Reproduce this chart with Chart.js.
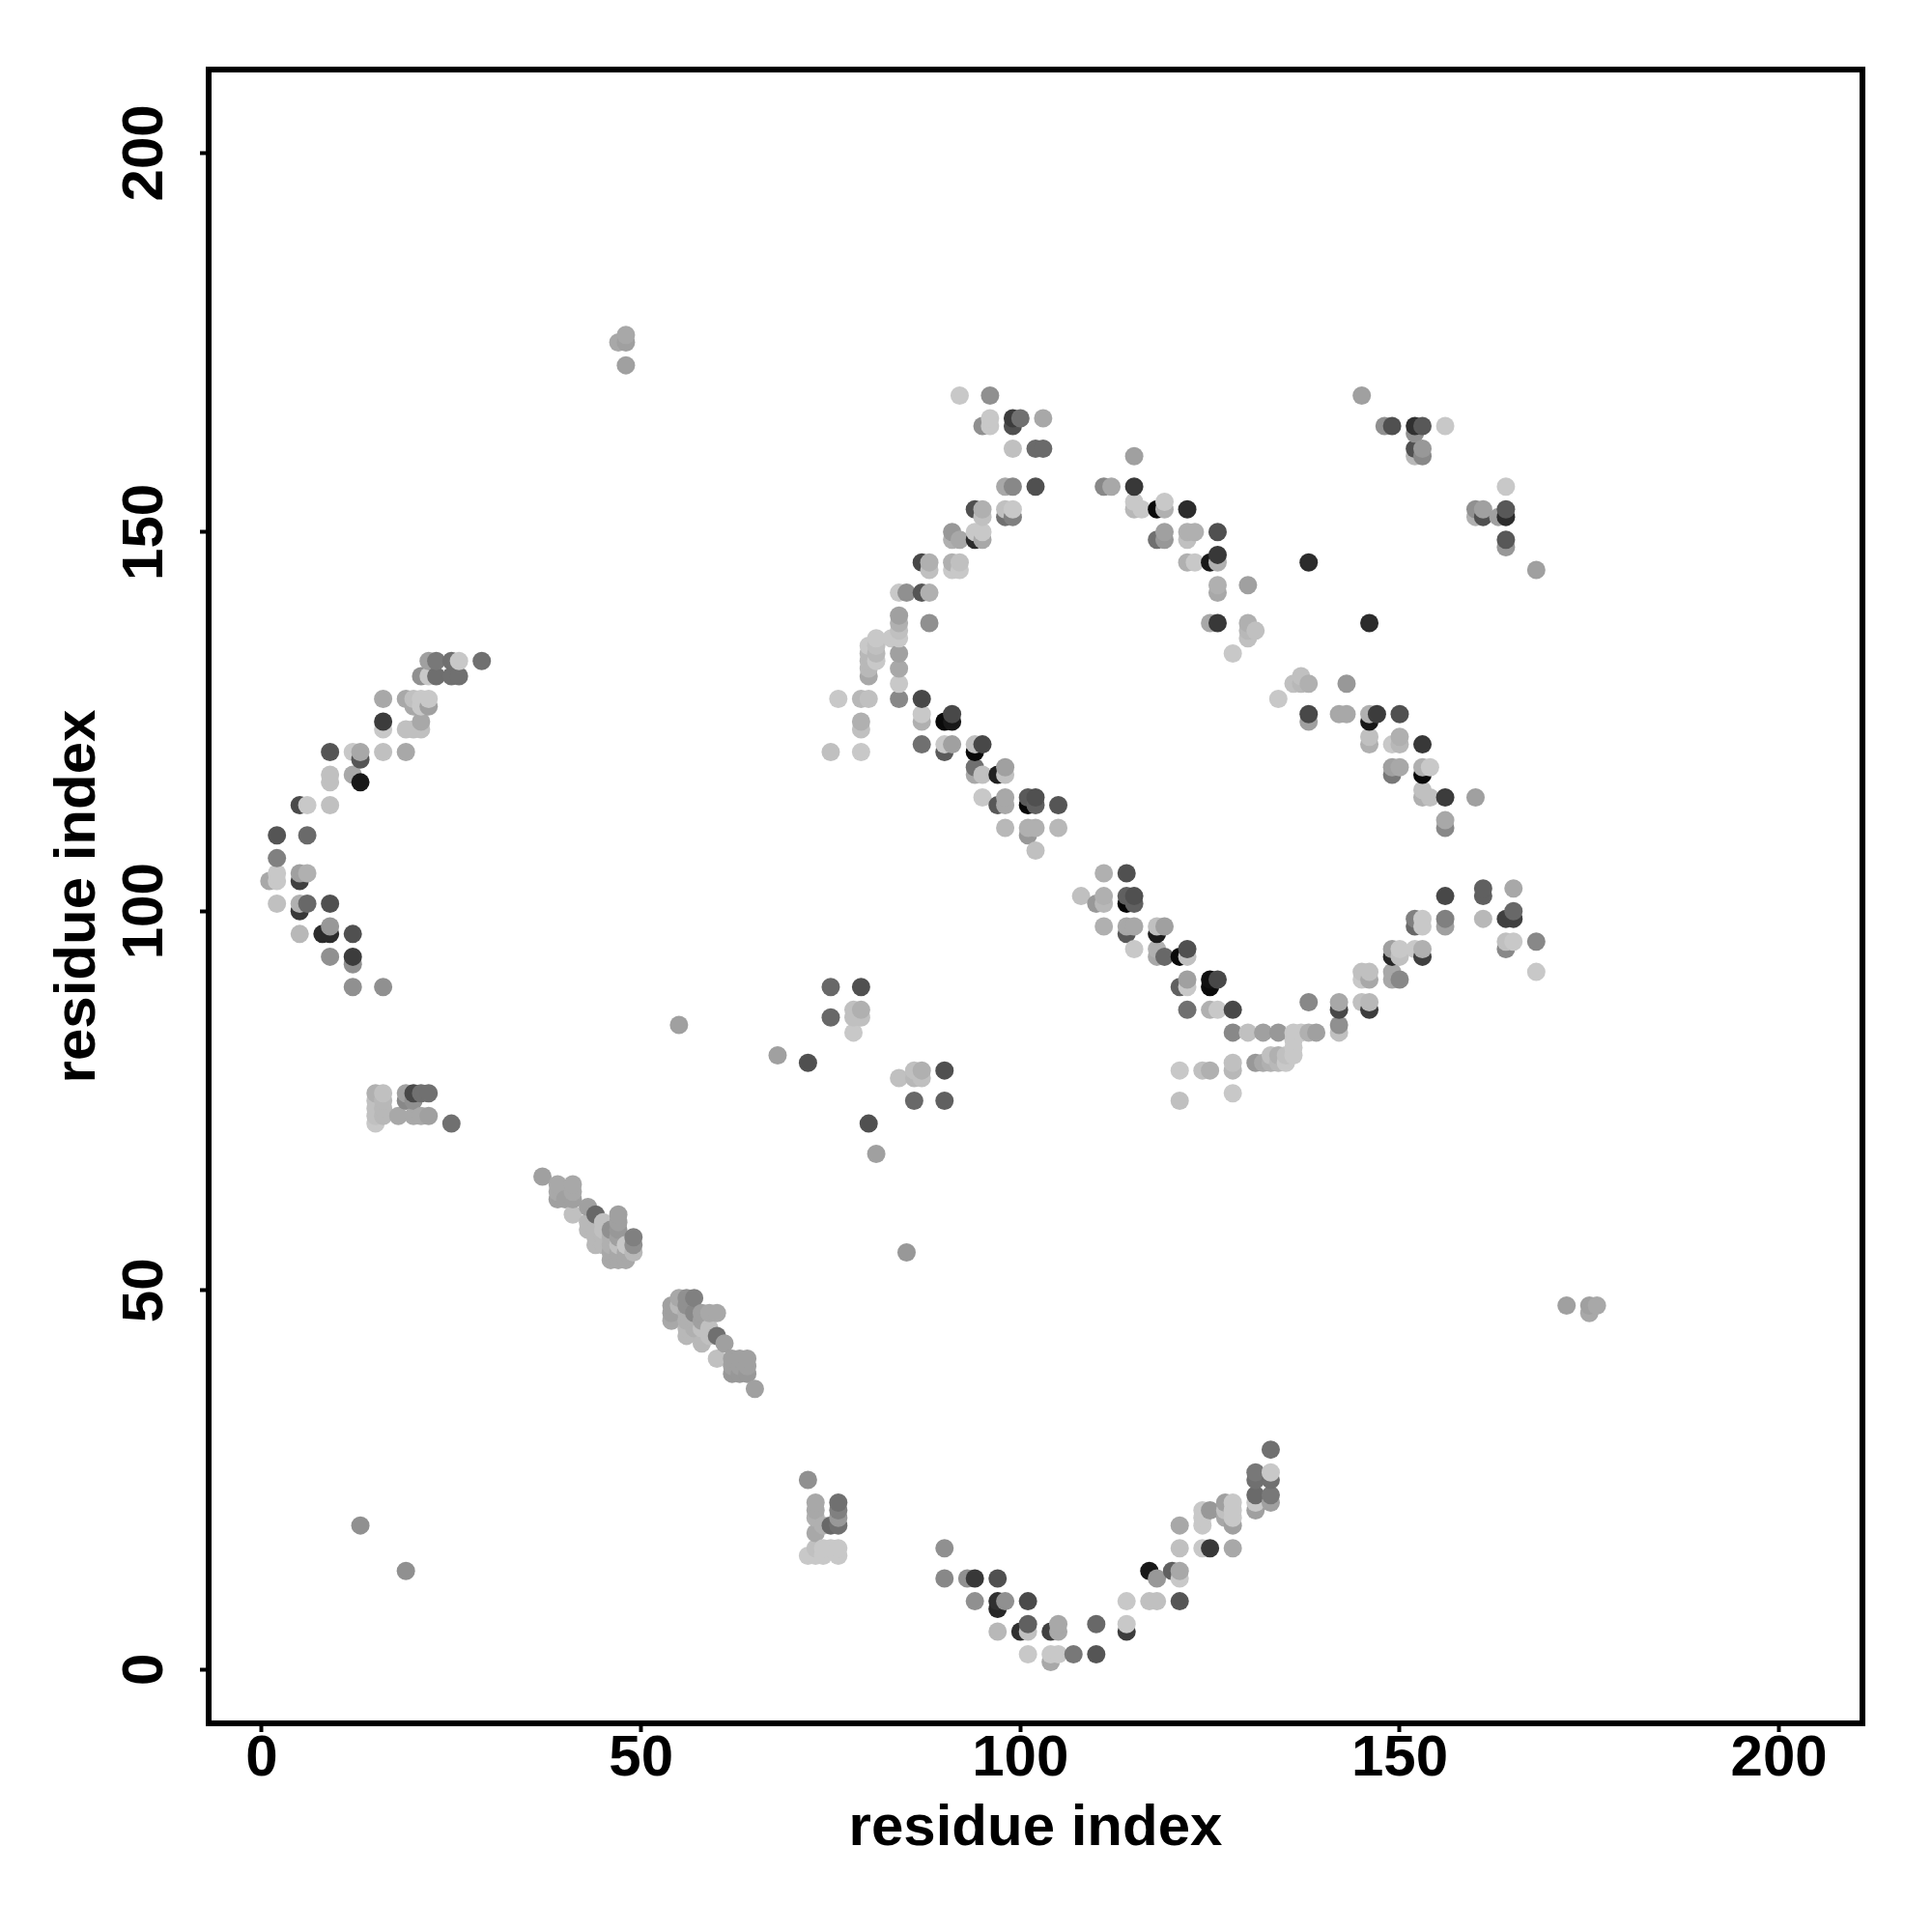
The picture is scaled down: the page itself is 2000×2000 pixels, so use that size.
<!DOCTYPE html>
<html>
<head>
<meta charset="utf-8">
<script src="https://cdn.jsdelivr.net/npm/chart.js@4/dist/chart.umd.min.js"></script>
<style>
html, body { margin: 0; padding: 0; background: #fff; }
canvas { display: block; }
</style>
</head>
<body>
<canvas id="contactMap" width="2000" height="2000"></canvas>
<script>
const tickValues = [0, 50, 100, 150, 200];
const axisLabel = 'residue index';

// contacts, one line per group of marks: x residue, y residue, grey level
const residueI = [
  22,23,25,26,29, 21,22,23,25,26, 16,19,20,21,22, 20,21,22, 16,21,16,19,20,21,
  9,12,13,16,19, 13, 9,12,9,13, 5,6,9, 2,6,2, 2,5,6, 1,2,5, 2,5,6,9,5,
  9,5,8,9,12, 9,12,12,12,16,
  15,16,15,16,15,16,15,16,15, 18,19,19,20,20,21,22,20,21,22,25,
  37,39,39,39,41,41,41,41,40,43,44,43,43,44,44,44,45,45,46,47,47,47,45,45,46,46,46,46,47,47,47,47,48,48,48,49,49,49,
  54,54,54,55,56,57,56,57,55,56,56,56,56,57,57,58,59,60,58,58,58,59,59,60,61,60,62,63,64,62,63,64,62,63,64,65,
  92,96, 95,96,96,99,99,100,103, 99,102,103, 98,99,102,
  94,95,95,98,99,98,99, 91,91,92,94,94,95,95, 87,88,88,91,92,91,92,
  84,85,87,88, 84,84,88,84,84,83,81, 80,81,80,81,80,81,80,80,
  84,84,84,84,76,79,80, 79,79,75,79,
  87,87,87,90,91,91, 87,90,91,90,94,95,94, 94,94,95,97,98,98,
  95,97,98,98,101,102,101,102,105, 98,101,102,101,105,102,
  111,114, 108,110,111,111,114,115,114,115, 111,114,115,114,118,119,118,
  115,118,118,119,122,121,122, 121,122,122,125,126,125, 122,125,126,128,
  128,130,132,134,136,137,138,139, 136,136, 133,134,135,136, 131,132,133,134,135,
  121,124,125,128,128,121,128,
  138,142,142,142,142, 145,146,146, 145,146,145,146, 149,149,150,
  149,150,149,150,152,153,153, 152,153,152,153, 156,156,156, 161,161,161,
  165,165,164,165, 164,165,164,168,168,
  111,112,115,115, 115,115,116,118,119,119,122, 118,119,119,122,122,123, 126,
  122,123,125,126,126,138, 126,126,130, 125,126,130,146, 130,131,130,128,
  137,136,137,138,143,134, 138,138,142,143,146,147,146,
  146,146,150,150,150,149,153, 149,150,149,153,154,153,
  153,153,154,156,160,156,156,
  145,148,149,152,153,156, 152,152,153,152,153,
  164,160,161,160,161,163,164,164,164,164,168,
  90,90,93,94,97,94,97,98,101,97, 97,100,101,104,105,114,101,105,110,114,
  101,104,105,107,110,104, 114,117,118,121, 117,118,120,121,121,
  121,124,125,128, 121,124,124,124,125,
  127,128,127,127,128,128,128, 131,131,131,133,133,131,131,133,133,133,
  72,73,73,73,73,72,73,74,74,75,76,76,74,75,76,76,76,76,73,
  48,47,48,48,55,85,172,175,176,175,13,19,68,72,
  75,79,75,78,79,78,79,78, 84,86,87,86,87,90,86,90,80,81
];
const residueJ = [
  133,133,133,133,133, 131,131,131,131,131, 128,128,128,128,128, 127,127,127, 125,125,124,124,124,124,
  121,121,121,121,121, 120, 118,118,117,117, 114,114,114, 110,110,107, 105,105,105, 104,104,104, 101,101,101,101,100,
  98,97,97,97,97, 94,94,93,90,90,
  76,76,75,75,74,74,73,73,72, 73,76,75,76,75,76,76,73,73,73,72,
  65,64,63,62,64,63,62,60,62,61,60,59,58,58,57,56,59,58,58,60,59,58,57,56,57,56,55,54,57,56,55,54,56,55,54,57,56,55,
  48,47,46,49,49,49,48,47,48,47,46,45,44,46,45,47,47,47,46,45,43,45,44,44,43,41,41,41,41,40,40,40,39,39,39,37,
  168,168, 164,165,164,165,164,165,165, 161,161,161, 156,156,156,
  153,153,152,153,153,152,152, 150,149,149,149,150,150,149, 146,146,145,146,146,145,145,
  142,142,142,142, 139,138,138,137,136,136,136, 135,135,134,134,133,133,132,131,
  134,132,130,128,128,128,128, 125,124,121,121,
  128,126,125,125,125,126, 122,122,122,121,122,122,121, 119,118,118,118,119,118,
  115,114,115,114,115,115,114,114,114, 111,111,111,110,111,108,
  105,105, 102,101,102,101,102,102,101,101, 98,98,98,97,98,98,97,
  95,95,94,94,95,94,94, 90,91,90,91,91,90, 87,87,87,87,
  84,84,84,84,84,84,84,84, 83,82, 81,81,81,81, 80,80,80,80,80,
  79,79,79,80,79,75,76,
  88,88,87,85,84, 88,88,87, 92,92,91,91, 92,91,91,
  95,95,94,94,95,95,94, 99,99,98,98, 102,99,98, 103,102,99,
  103,100,99,99, 96,96,95,96,92,
  156,156,156,160, 154,153,153,153,154,153,153, 149,150,149,150,149,150, 150,
  146,146,146,146,147,146, 143,142,143, 138,138,138,138, 137,137,136,134,
  131,130,130,130,130,128, 126,125,126,126,126,126,125,
  123,122,126,123,122,122,122, 119,119,118,119,119,118,
  116,115,115,115,115,112,111,
  168,164,164,164,164,164, 163,161,161,160,160,
  156,153,153,152,152,152,153,152,149,148,145,
  16,12,12,12,12,9,9,9,9,8, 5,5,5,5,5,5,6,6,6,6,
  2,2,2,2,2,1, 9,9,9,9, 13,12,13,13,12,
  16,16,16,16, 19,19,20,21,21,
  22,22,20,21,21,20,19, 21,22,23,23,22,25,26,26,25,29,
  25,22,21,20,18,15,15,15,16,16,16,15,19,19,22,21,20,19,16,
  176,175,175,172,85,55,48,48,48,47,19,13,81,80,
  90,90,86,87,87,86,86,84, 78,79,79,78,78,79,75,75,72,68
];
const contactShade = [
  'a0','78','70','c8','70', '90','c8','6e','70','70', 'a8','a8','c0','c8','c8', 'a8','c8','a0', '3c','a8','c8','c0','c0','c0',
  '55','c8','a8','c0','a8', '55', 'c0','a8','c0','18', '4a','c8','c0', '55','6a','80', 'c8','a0','b0', 'a8','c8','40', 'c0','b0','68','50','38',
  '98','b8','2c','2c','50', '90','3c','90','90','90',
  'b0','c0','c0','b8','c0','b8','c0','b8','c8', 'a8','a0','88','48','90','70','70','a8','a8','a0','70',
  'a0','a8','a8','a0','a8','a8','a0','c0','a0','a0','68','b8','b8','b8','b8','b8','c0','c0','90','a0','a0','98','b8','b8','b0','b0','a8','a8','a0','c0','a8','a8','c8','a8','a8','80','90','b8',
  'a0','a0','a8','a8','90','80','90','88','b8','b0','b0','b8','b8','b0','b0','a0','a8','a8','a0','c0','b8','c0','c0','70','a0','c0','a0','a0','a0','a0','a0','a0','98','98','98','a0',
  'c8','90', '90','c8','c8','3c','50','70','a8', 'c0','6a','6a', 'a8','88','50',
  '50','b0','c0','c0','c8','70','80', '98','b0','a8','2c','c8','c8','a8', '48','b0','c0','b0','c0','c8','c8',
  'c8','90','55','b0', 'a0','b0','90','c0','c8','c8','c8', 'c8','c0','b8','b8','b8','c8','b8','a8',
  'a0','a8','c8','88','c8','b8','c0', 'b0','c0','c0','c8',
  '48','c8','b0','0a','18','48', '70','c8','a0','5a','c0','48','0a', '70','a8','c0','20','a0','c0',
  'c8','58','a8','a8','5a','50','08','60','55', 'b8','b0','b0','98','b8','c0',
  'b0','50', 'c0','98','b0','b8','60','50','05','60', 'b0','a8','a8','58','c0','a0','1c',
  'c8','b0','a8','68','50','0a','c0', '60','a0','c8','10','48','0a', '70','b0','c8','48',
  '88','c0','a0','98','c8','c8','b0','a0', 'c8','c8', 'c0','b0','c0','c8', '98','a8','b0','b8','c8',
  'c8','c0','b0','c0','b8','c0','c8',
  '88','a8','48','90','c0', 'c0','b8','3c', 'c0','c0','c8','a8', 'a8','a8','88',
  'a0','c8','28','c0','c8','b0','40', '80','c8','68','c8', '48','80','a0', '60','60','b8',
  'a8','68','40','40', 'c0','c8','88','88','c8',
  '88','a8','38','a0', 'c8','b8','c8','0a','c8','b0','2c', '70','a0','98','b0','c0','b0', '50',
  'b0','c8','18','b0','38','2c', 'b0','a8','a0', 'a8','38','b0','2c', 'b8','c0','c0','c8',
  'c0','c0','b8','b0','98','c8', '48','a0','a8','a8','b0','3c','18',
  'c0','b0','50','b0','b8','c8','38', 'a0','a8','78','b0','c8','0a',
  'c0','b0','c0','3c','a0','a8','88',
  'a0','90','50','30','58','c8', '90','50','98','b8','88',
  'c8','90','a0','b0','50','a0','58','2c','58','98','a0',
  '90','88','90','38','50','90','30','90','4a','28', 'b8','30','c0','40','a8','3c','60','a8','68','c8',
  'c8','c8','c8','78','55','a8', 'c8','c0','c0','55', '18','98','60','a8','c8',
  'c0','c8','38','a8', 'a8','c8','c8','c8','98',
  'a0','c8','a8','c0','c8','c8','a0', 'a0','c8','6a','78','a0','70','78','c8','70','70',
  '90','a8','a8','b0','a8','c8','c8','c8','c8','c8','c8','c8','b0','68','70','80','98','70','c0',
  'a8','a8','a0','a0','a0','98','a0','a0','a8','a8','90','90','a0','50',
  '68','50','68','c0','b0','c0','c0','c8', 'c0','c0','b0','b8','c0','50','68','60','50','a0'
];

// R plots in row order, so later residues sit on top of earlier ones
const order = residueI.map((_, k) => k)
  .sort((a, b) => residueI[a] - residueI[b] || residueJ[a] - residueJ[b]);
const points = order.map(k => ({ x: residueI[k], y: residueJ[k] }));
const colours = order.map(k => '#' + contactShade[k].repeat(3));

const boxPlugin = {
  id: 'box',
  afterDatasetsDraw(chart) {
    const { ctx, chartArea: a } = chart;
    ctx.save();
    ctx.strokeStyle = '#000';
    ctx.lineWidth = 6;
    ctx.strokeRect(a.left, a.top, a.right - a.left, a.bottom - a.top);
    ctx.restore();
  }
};

const font = { family: '"Liberation Sans"', weight: 'bold', size: 60 };

function tickAxis(position, min) {
  return {
    type: 'linear',
    position: position,
    min: min,
    max: 211,
    afterBuildTicks: scale => { scale.ticks = tickValues.map(v => ({ value: v })); },
    grid: { drawOnChartArea: false, drawTicks: true, tickLength: 9, tickWidth: 4, tickColor: '#000' },
    border: { display: false },
    title: { display: true, text: axisLabel, color: '#000', font: font, padding: 0 }
  };
}

const xAxis = tickAxis('bottom', -7);
xAxis.ticks = { color: '#000', font: font, padding: -8, maxRotation: 0, autoSkip: false };
xAxis.title.padding = { top: 0, bottom: 71 };
xAxis.afterFit = scale => { scale.height = 216; };

const yAxis = tickAxis('left', -7.1);
yAxis.ticks = { color: '#000', font: font, padding: 5, minRotation: 90, maxRotation: 90, crossAlign: 'center', autoSkip: false };
yAxis.title.padding = { top: 45, bottom: 0 };
yAxis.afterFit = scale => { scale.width = 216; };

new Chart(document.getElementById('contactMap').getContext('2d'), {
  type: 'scatter',
  data: {
    datasets: [{
      data: points,
      backgroundColor: colours,
      borderWidth: 0,
      pointRadius: 9.5,
      pointHoverRadius: 9.5
    }]
  },
  options: {
    responsive: false,
    animation: false,
    devicePixelRatio: 1,
    layout: { padding: { left: 0, top: 72, right: 72, bottom: 0 } },
    plugins: { legend: { display: false }, tooltip: { enabled: false } },
    scales: { x: xAxis, y: yAxis }
  },
  plugins: [boxPlugin]
});
</script>
</body>
</html>
